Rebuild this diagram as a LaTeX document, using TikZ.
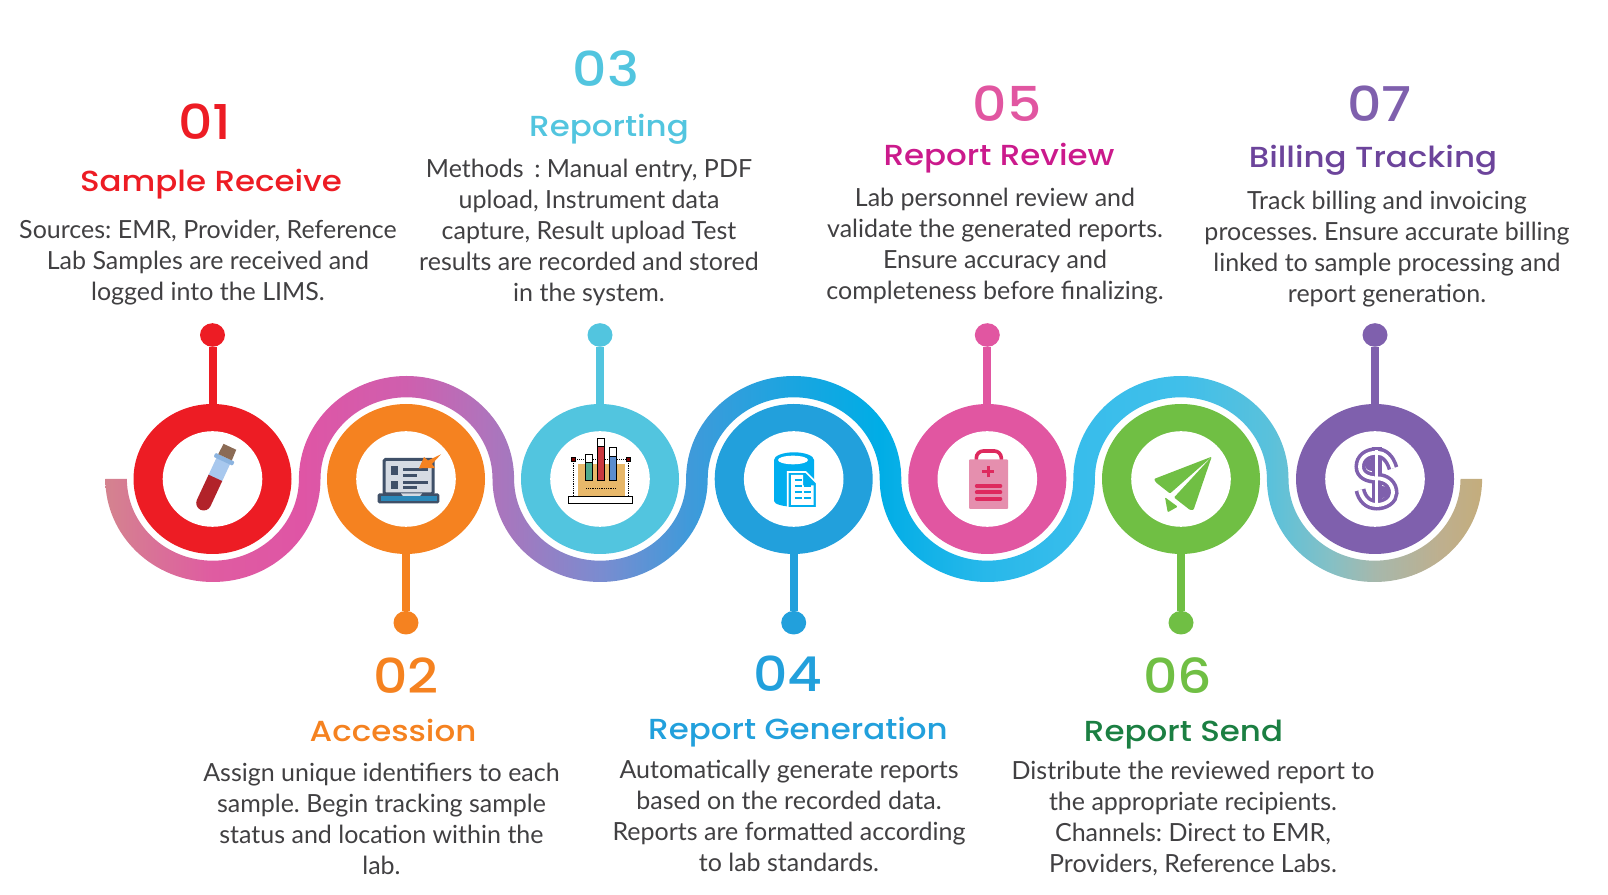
\documentclass[tikz,border=0pt]{standalone}
\usepackage{fontspec}
\setmainfont{Lato}
\newfontfamily\headfont[FakeStretch=1.12]{Poppins Medium}
\usetikzlibrary{shapes.geometric}
\definecolor{redA}{HTML}{ED1C24}
\definecolor{orangeA}{HTML}{F58220}
\definecolor{cyanA}{HTML}{52C5DF}
\definecolor{blueA}{HTML}{22A0DC}
\definecolor{pinkA}{HTML}{E156A1}
\definecolor{greenA}{HTML}{70BF44}
\definecolor{purpleA}{HTML}{7F60AD}
\definecolor{magentaB}{HTML}{CB1A8C}
\definecolor{greenB}{HTML}{1B7F42}
\definecolor{purpleB}{HTML}{6C449B}
\definecolor{bodygray}{HTML}{414042}
\definecolor{slateA}{HTML}{3F5068}
\definecolor{screenA}{HTML}{D5DBE3}
\definecolor{bloodA}{HTML}{B2232A}
\definecolor{glassA}{HTML}{A8C8EE}
\definecolor{collarA}{HTML}{8CB4E0}
\definecolor{corkA}{HTML}{8B6B55}
\definecolor{tanA}{HTML}{E8B86A}
\definecolor{tealA}{HTML}{4FA98C}
\definecolor{barredA}{HTML}{C9383F}
\definecolor{barblueA}{HTML}{5B8DCF}
\definecolor{dbblue}{HTML}{00AEEF}
\definecolor{crossA}{HTML}{DE2A5E}
\definecolor{boardA}{HTML}{E58FAE}
\definecolor{fadeA}{HTML}{D4838F}
\definecolor{fadeB}{HTML}{DF5CA1}
\definecolor{fadeC}{HTML}{DF55A5}
\definecolor{fadeD}{HTML}{CF5FAE}
\definecolor{fadeE}{HTML}{B272BB}
\definecolor{fadeF}{HTML}{A07AC0}
\definecolor{fadeG}{HTML}{7A8CD0}
\definecolor{fadeH}{HTML}{3F9ADA}
\definecolor{fadeI}{HTML}{1AA5E0}
\definecolor{fadeJ}{HTML}{00ADE6}
\definecolor{fadeK}{HTML}{28B8EA}
\definecolor{fadeL}{HTML}{38BDEB}
\definecolor{fadeM}{HTML}{40BFEA}
\definecolor{fadeN}{HTML}{5AC1DB}
\definecolor{fadeO}{HTML}{85C0C5}
\definecolor{fadeP}{HTML}{A6B8AC}
\definecolor{fadeQ}{HTML}{BEAF8E}
\definecolor{fadeR}{HTML}{C4AD7C}
\pgfdeclarehorizontalshading{ribbonfade}{100bp}{color(0bp)=(fadeA); color(25bp)=(fadeA);
  color(28.9bp)=(fadeB); color(32.1bp)=(fadeC); color(35.9bp)=(fadeD); color(38.6bp)=(fadeE);
  color(40.1bp)=(fadeF); color(43bp)=(fadeG); color(46.2bp)=(fadeH); color(50bp)=(fadeI);
  color(53.1bp)=(fadeJ); color(57bp)=(fadeK); color(60.4bp)=(fadeL); color(64.1bp)=(fadeM);
  color(67.3bp)=(fadeN); color(69.5bp)=(fadeO); color(71.1bp)=(fadeP); color(73.5bp)=(fadeQ);
  color(75bp)=(fadeR); color(100bp)=(fadeR)}
\tikzset{
  ring/.style={ellipse,inner sep=0pt,minimum width=158pt,minimum height=150pt},
  hole/.style={ellipse,inner sep=0pt,fill=white,minimum width=99.6pt,minimum height=95.6pt},
  dot/.style={ellipse,inner sep=0pt,minimum width=25pt,minimum height=23.6pt},
  stem/.style={line width=8pt},
  numlabel/.style={anchor=base,font=\fontsize{48}{50}\headfont},
  titlelabel/.style={anchor=base,font=\fontsize{29}{32}\headfont},
  bodylabel/.style={align=center,text=bodygray,font=\fontsize{25}{31}\selectfont\frenchspacing},
  bar/.style={line width=3pt},
}
\begin{document}
\begin{tikzpicture}[x=1pt,y=1pt]
  \useasboundingbox (0,0) rectangle (1608,894);
  % ribbon, upper edge going right then lower edge coming back
  \def\ox{107.6} \def\oy{103} \def\ix{86} \def\iy{81.7}
  \shade[shading=ribbonfade] (105.3,415)
    arc[start angle=180,end angle=360,x radius=\ox,y radius=\oy]
    arc[start angle=180,end angle=0,x radius=\ix,y radius=\iy]
    arc[start angle=180,end angle=360,x radius=\ox,y radius=\oy]
    arc[start angle=180,end angle=0,x radius=\ix,y radius=\iy]
    arc[start angle=180,end angle=360,x radius=\ox,y radius=\oy]
    arc[start angle=180,end angle=0,x radius=\ix,y radius=\iy]
    arc[start angle=180,end angle=360,x radius=\ox,y radius=\oy]
    -- ++(-21.6,0)
    arc[start angle=360,end angle=180,x radius=\ix,y radius=\iy]
    arc[start angle=0,end angle=180,x radius=\ox,y radius=\oy]
    arc[start angle=360,end angle=180,x radius=\ix,y radius=\iy]
    arc[start angle=0,end angle=180,x radius=\ox,y radius=\oy]
    arc[start angle=360,end angle=180,x radius=\ix,y radius=\iy]
    arc[start angle=0,end angle=180,x radius=\ox,y radius=\oy]
    arc[start angle=360,end angle=180,x radius=\ix,y radius=\iy]
    -- cycle;
  % rings with their stems
  \foreach \n/\x/\y/\c in {1/212.5/559/redA,2/406/271.3/orangeA,3/600/559/cyanA,4/793.7/271.3/blueA,
      5/987.3/559/pinkA,6/1181/271.3/greenA,7/1375/559/purpleA}{
    \node[ring,fill=\c] (ring\n) at (\x,415) {};
    \node[hole] (hole\n) at (\x,415) {};
    \node[dot,fill=\c] (dot\n) at (\x,\y) {};
    \draw[stem,\c] (dot\n) -- (ring\n);
  }
  % tube
  \begin{scope}[shift={(ring1)}]
    \begin{scope}[shift={(-8.8,-24)},rotate=-25]
      \fill[glassA] (-7.5,27) rectangle (7.5,48);
      \fill[bloodA] (-7.5,0) arc[start angle=180,end angle=360,radius=7.5] -- (7.5,27.7) -- (-7.5,27.7) -- cycle;
      \fill[collarA,rounded corners=1pt] (-10.5,46) rectangle (10.5,50.5);
      \fill[corkA] (-7.5,50.5) -- (7.5,50.5) -- (7,62) -- (-7,62) -- cycle;
    \end{scope}
  \end{scope}
  % laptop
  \begin{scope}[shift={(ring2)}]
    \draw[slateA,line width=3pt,fill=screenA,rounded corners=1.5pt] (-22,-15) -- (-22,19.5) -- (27,19.5) -- (27,-15) -- cycle;
    \fill[slateA,rounded corners=1.5pt] (-28.3,-24.3) rectangle (33.3,-14.5);
    \fill[blueA!70!slateA] (-25.5,-21.8) rectangle (30.5,-17);
    \fill[screenA] (-5,-14.5) -- (-3,-17) -- (14,-17) -- (16,-14.5) -- cycle;
    \fill[slateA] (-15.5,12.5) rectangle (-8,4);
    \fill[slateA] (-15.5,-2) rectangle (-8,-10);
    \draw[bar,slateA] (-3,9) -- (22,9);
    \draw[bar,slateA] (-3,3.7) -- (11,3.7);
    \draw[bar,slateA] (-3,-3.3) -- (22,-3.3);
    \draw[bar,slateA] (-3,-8.7) -- (11,-8.7);
    \fill[orangeA] (13,10.7) -- (18,22) -- (22,18.5) -- (35,24.7) -- (26,15) -- (29,11) -- cycle;
  \end{scope}
  % chart
  \begin{scope}[shift={(ring3)}]
    \fill[tanA] (-22.2,14.7) rectangle (24.5,-17);
    \draw[densely dotted,black,line width=1pt] (-27,19.7) -- (28,19.7);
    \draw[densely dotted,black,line width=.8pt] (-27,19.7) -- (-27,-17) (28,19.7) -- (28,-17);
    \draw[densely dotted,black,line width=.8pt] (-13.8,-9.3) -- (16,-9.3);
    \draw[black,line width=1.2pt,fill=white] (-31.8,-24.3) rectangle (32.5,-17.7);
    \draw[black,line width=1pt,fill=tealA] (-14.5,16) rectangle (-7.7,-2);
    \draw[black,line width=1pt,fill=barredA] (-2.3,32) rectangle (4.2,-2);
    \draw[black,line width=1pt,fill=barblueA] (9.6,22) rectangle (16.5,-2);
    \draw[black,line width=1pt,fill=white] (-14.5,24.7) rectangle (-7.7,16);
    \draw[black,line width=1pt,fill=white] (-2.3,40.7) rectangle (4.2,32);
    \draw[black,line width=1pt,fill=white] (9.6,31.3) rectangle (16.5,22);
    \draw[black,fill=red!50!black,line width=.8pt] (-29,17.7) rectangle (-25,21.7);
    \draw[black,fill=red!50!black,line width=.8pt] (26,17.7) rectangle (30,21.7);
  \end{scope}
  % database with page
  \begin{scope}[shift={(ring4)}]
    \fill[dbblue] (-19.7,19) arc[start angle=180,end angle=0,x radius=20,y radius=7.7] -- (20.3,-22)
      arc[start angle=0,end angle=-180,x radius=20,y radius=5.7] -- cycle;
    \fill[white] (-0.7,19) ellipse [x radius=15,y radius=4.3];
    \draw[white,line width=1.6pt,fill=dbblue] (-6,-29) -- (-6,7) -- (12,7) -- (23,-4) -- (23,-29) -- cycle;
    \fill[white] (-2.5,-26) -- (-2.5,4) -- (9.5,4) -- (9.5,-6.5) -- (20,-6.5) -- (20,-26) -- cycle;
    \foreach \r in {-1,-7,-13,-19}{
      \draw[dbblue,line width=2pt] (1,\r) -- (8,\r) (10,\r) -- (17,\r);
    }
  \end{scope}
  % clipboard
  \begin{scope}[shift={(ring5)}]
    \draw[crossA,line width=3.6pt,rounded corners=7pt] (-11,19) -- (-11,28) -- (14,28) -- (14,19);
    \fill[boardA,rounded corners=1pt] (-18.3,19.7) rectangle (20.7,-30);
    \draw[crossA,line width=3.4pt] (-5,7.3) -- (7,7.3) (1,1.5) -- (1,13.1);
    \foreach \r in {-7,-13.3,-19.7}{
      \draw[crossA,line width=4pt,line cap=round] (-10.5,\r) -- (13,\r);
    }
  \end{scope}
  % plane
  \begin{scope}[shift={(ring6)}]
    \fill[greenA,rounded corners=1pt] (30.7,22.3) -- (-27,0) -- (-25,-3.5) -- (-11,-14.5) -- cycle;
    \fill[greenA,rounded corners=1pt] (30.7,22.3) -- (-7,-18.5) -- (9,-31) -- (12.5,-31) -- cycle;
    \fill[greenA,rounded corners=1pt] (-16,-18.3) -- (-13.3,-33.3) -- (-3.3,-27.7) -- cycle;
  \end{scope}
  % dollar
  \begin{scope}[shift={(ring7)}]
    \def\spath{(18,10.7) .. controls (15,21) and (9,26.3) .. (1.7,26.3) .. controls (-8,26.3) and (-15,21) .. (-15,12.3)
      .. controls (-15,4) and (-7,0.7) .. (1.7,0.7) .. controls (11,0.7) and (18,-5) .. (18,-14)
      .. controls (18,-21) and (10,-26) .. (1.7,-26) .. controls (-7,-26) and (-13,-20) .. (-15,-11)}
    \draw[purpleA,line width=11pt] \spath;
    \fill[purpleA] (-3.5,-31) rectangle (6.5,32);
    \fill[purpleA] (-3,14) ellipse [x radius=7,y radius=6];
    \fill[purpleA] (7,-13) ellipse [x radius=7,y radius=6];
    \draw[white,line width=3.8pt] \spath;
    \fill[white] (0,-28) rectangle (3,29);
  \end{scope}
  % texts
  \node[numlabel,redA] (num1) at (205,754.7) {01};
  \node[titlelabel,redA] (title1) at (211,702) {Sample Receive};
  \node[bodylabel] (body1) at (208,631.5) {Sources: EMR, Provider, Reference\\Lab Samples are received and\\logged into the LIMS.};
  \node[numlabel,orangeA] (num2) at (406,200.7) {02};
  \node[titlelabel,orangeA] (title2) at (393,152.3) {Accession};
  \node[bodylabel] (body2) at (381.5,75.5) {Assign unique identifiers to each\\sample. Begin tracking sample\\status and location within the\\lab.};
  \node[numlabel,cyanA] (num3) at (606,807.3) {03};
  \node[titlelabel,cyanA] (title3) at (609,757.3) {Reporting};
  \node[bodylabel] (body3) at (589,662) {Methods\, : Manual entry, PDF\\upload, Instrument data\\capture, Result upload Test\\results are recorded and stored\\in the system.};
  \node[numlabel,blueA] (num4) at (788,202.3) {04};
  \node[titlelabel,blueA] (title4) at (798,154.7) {Report Generation};
  \node[bodylabel] (body4) at (789,78) {Automatically generate reports\\based on the recorded data.\\Reports are formatted according\\to lab standards.};
  \node[numlabel,pinkA] (num5) at (1007,772.3) {05};
  \node[titlelabel,magentaB] (title5) at (999,728) {Report Review};
  \node[bodylabel] (body5) at (995,648) {Lab personnel review and\\validate the generated reports.\\Ensure accuracy and\\completeness before finalizing.};
  \node[numlabel,greenA] (num6) at (1178,200.7) {06};
  \node[titlelabel,greenB] (title6) at (1183.5,152.3) {Report Send};
  \node[bodylabel] (body6) at (1193,76) {Distribute the reviewed report to\\the appropriate recipients.\\Channels: Direct to EMR,\\Providers, Reference Labs.};
  \node[numlabel,purpleA] (num7) at (1379.5,772.3) {07};
  \node[titlelabel,purpleB] (title7) at (1373,726.7) {Billing Tracking};
  \node[bodylabel] (body7) at (1387,645) {Track billing and invoicing\\processes. Ensure accurate billing\\linked to sample processing and\\report generation.};
\end{tikzpicture}
\end{document}
